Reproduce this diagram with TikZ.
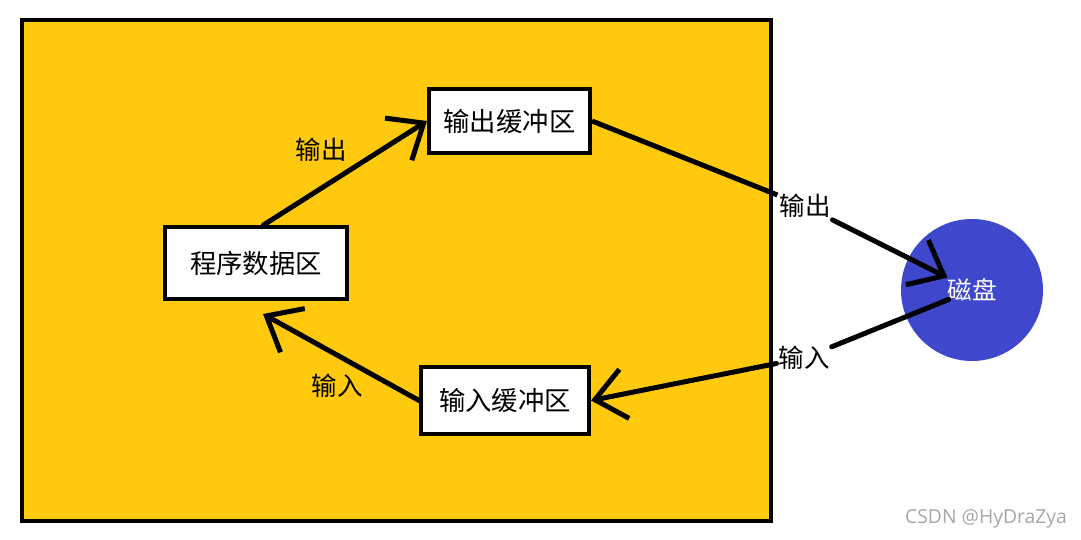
\documentclass[tikz,border=0pt]{standalone}
\usepackage{fontspec}
\newfontfamily\cjk{Noto Sans CJK SC}
\usetikzlibrary{arrows.meta}
\definecolor{gold}{RGB}{255,201,14}
\definecolor{indigo}{RGB}{63,72,204}
\tikzset{
	buf/.style={draw, line width=0.8mm, fill=white, font=\cjk\fontsize{15}{17}\selectfont},
	lbl/.style={font=\cjk\fontsize{14.5}{16}\selectfont, inner sep=1pt},
	arr/.style={line width=1mm, line cap=round, -{Straight Barb[length=6mm,width=10mm]}}
}

\begin{document}
\begin{tikzpicture}
			%%%%% START %%%%%
			\useasboundingbox (0, 0) rectangle (21.62, 10.8);
			
			\draw[line width=0.8mm, fill=gold] (0.44, 0.38) rectangle (15.42, 10.4);
			
			\node[buf, minimum width=3.64cm, minimum height=1.44cm] (prog) at (5.12, 5.54) {程序数据区};
			\node[buf, minimum width=3.22cm, minimum height=1.28cm] (outbuf) at (10.19, 8.38) {输出缓冲区};
			\node[buf, minimum width=3.36cm, minimum height=1.34cm] (inbuf) at (10.10, 2.79) {输入缓冲区};
			
			\node[circle, fill=indigo, minimum size=2.84cm, text=white, font=\cjk\fontsize{14}{16}\selectfont] (disk) at (19.44, 5.0) {磁盘};
			
			\node[lbl] (outtxt) at (6.42, 7.80) {输出};
			\node[lbl] (intxt) at (6.74, 3.08) {输入};
			\node[lbl] (outlbl) at (16.10, 6.68) {输出};
			\node[lbl] (inlbl) at (16.08, 3.64) {输入};
			
			\draw[arr] ([xshift=1.5mm]prog.north) -- (outbuf.west);
			\draw[arr] (inbuf.west) -- ([xshift=1.4mm, yshift=-2.6mm]prog.south);
			
			\draw[line width=1mm] (outbuf.east) -- (outlbl);
			\draw[arr, shorten >=5.5mm] (outlbl) -- (disk.center);
			\draw[line width=1mm, line cap=round, shorten <=5mm] (disk.center) -- (inlbl);
			\draw[arr] (inlbl) -- (inbuf.east);
			
			\node[font=\fontspec{Open Sans}\fontsize{11}{13}\selectfont, text=black!35] (mark) at (19.72, 0.42) {CSDN @HyDraZya};
			
			%%%%% END %%%%%
\end{tikzpicture}
\end{document}
